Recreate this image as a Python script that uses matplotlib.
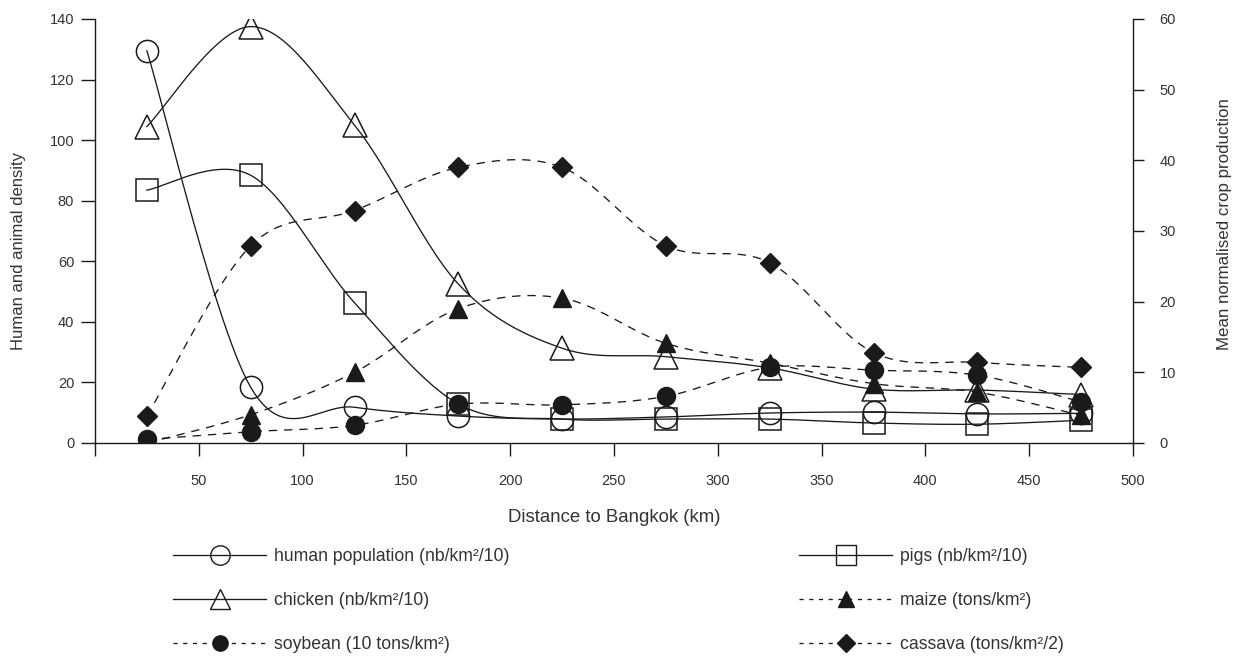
import numpy as np
import matplotlib
matplotlib.use('Agg')
import matplotlib.pyplot as plt
from matplotlib.lines import Line2D

plt.rcParams['font.family'] = ['Liberation Sans', 'DejaVu Sans']
plt.rcParams['lines.scale_dashes'] = False

# distance classes (km)
distance = [25, 75, 125, 175, 225, 275, 325, 375, 425, 475]

# left axis: human and animal density
human = [129.5, 18.4, 11.8, 8.9, 7.9, 8.6, 9.9, 10.2, 9.6, 9.8]
pigs = [83.5, 88.4, 46.3, 12.9, 7.9, 7.9, 7.9, 6.6, 6.2, 7.5]
chicken = [104.5, 137.5, 105.0, 52.5, 31.3, 28.5, 24.8, 17.8, 17.5, 16.0]

# right axis: crop production
maize = [0.0, 4.0, 10.0, 19.0, 20.5, 14.1, 11.3, 8.4, 7.2, 3.9]
soybean = [0.5, 1.6, 2.5, 5.5, 5.4, 6.6, 10.7, 10.3, 9.6, 5.8]
cassava = [3.8, 27.9, 32.9, 39.0, 39.0, 27.9, 25.5, 12.8, 11.4, 10.7]

labels = {
    'human': 'human population (nb/km²/10)',
    'pigs': 'pigs (nb/km²/10)',
    'chicken': 'chicken (nb/km²/10)',
    'maize': 'maize (tons/km²)',
    'soybean': 'soybean (10 tons/km²)',
    'cassava': 'cassava (tons/km²/2)',
}


def smooth(xs, ys, steps=30):
    # catmull-rom style bezier, like the "smoothed line" of a spreadsheet
    p = np.column_stack([xs, ys]).astype(float)
    p = np.vstack([p[0], p, p[-1]])
    out = []
    t = np.linspace(0, 1, steps)[:, None]
    for i in range(1, len(p) - 2):
        p0, p1, p2, p3 = p[i - 1], p[i], p[i + 1], p[i + 2]
        c1 = p1 + (p2 - p0) / 6
        c2 = p2 - (p3 - p1) / 6
        seg = ((1 - t) ** 3) * p1 + 3 * ((1 - t) ** 2) * t * c1 + 3 * (1 - t) * t ** 2 * c2 + t ** 3 * p2
        out.append(seg)
    out = np.vstack(out)
    return out[:, 0], out[:, 1]


ink = '#1a1a1a'
txt = '#333333'
lw = 0.95
dash = (6, 5)

fig = plt.figure(figsize=(12.39, 6.59), dpi=100)
ax = fig.add_axes([95 / 1239, 1 - 443 / 659, (1133 - 95) / 1239, (443 - 19) / 659])
ax2 = ax.twinx()

series_left = [
    (human, 'o', 16, 'none'),
    (pigs, 's', 16, 'none'),
    (chicken, '^', 17, 'none'),
]
series_right = [
    (maize, '^', 13, ink),
    (soybean, 'o', 13, ink),
    (cassava, 'D', 10.5, ink),
]

for ys, m, ms, fc in series_left:
    sx, sy = smooth(distance, ys)
    ax.plot(sx, sy, color=ink, lw=lw)
    ax.plot(distance, ys, ls='none', marker=m, ms=ms, mfc=fc, mec=ink, mew=1.1)

for ys, m, ms, fc in series_right:
    sx, sy = smooth(distance, ys)
    ax2.plot(sx, sy, color=ink, lw=lw, dashes=dash)
    ax2.plot(distance, ys, ls='none', marker=m, ms=ms, mfc=fc, mec=ink, mew=1.0)

ax.set_xlim(0, 500)
ax.set_ylim(0, 140)
ax2.set_ylim(0, 60)
ax.set_xticks(np.arange(0, 501, 50))
ax.set_xticklabels([''] + [str(v) for v in range(50, 501, 50)])
ax.set_yticks(np.arange(0, 141, 20))
ax2.set_yticks(np.arange(0, 61, 10))

for a in (ax, ax2):
    a.spines['top'].set_visible(False)
    for s in a.spines.values():
        s.set_color(ink)
        s.set_linewidth(1.0)
ax.spines['right'].set_visible(False)
ax2.spines['left'].set_visible(False)
ax2.spines['bottom'].set_visible(False)

ax.tick_params(axis='x', direction='out', length=9, width=1.0, color=ink, labelsize=10.5,
               labelcolor=txt, pad=13)
ax.tick_params(axis='y', direction='out', length=10, width=1.0, color=ink, labelsize=10.5,
               labelcolor=txt, pad=5)
ax2.tick_params(axis='y', direction='out', length=8, width=1.0, color=ink, labelsize=10.5,
                labelcolor=txt, pad=11)

ax.set_xlabel('Distance to Bangkok (km)', fontsize=13.4, color=txt)
ax.xaxis.set_label_coords(0.5, -0.156)
ax.set_ylabel('Human and animal density', fontsize=12, color=txt)
ax.yaxis.set_label_coords(-0.066, 0.453)
ax2.set_ylabel('Mean normalised crop production', fontsize=12.2, color=txt, rotation=90)
ax2.yaxis.set_label_coords(1.081, 0.5165)


def handle(m, ms, fc, dashed):
    h = Line2D([], [], color=ink, lw=lw, marker=m, ms=ms, mfc=fc, mec=ink, mew=1.0)
    if dashed:
        h.set_dashes((3, 4))
    return h


left_h = [handle('o', 14, 'none', False), handle('^', 14, 'none', False), handle('o', 11, ink, True)]
left_l = [labels['human'], labels['chicken'], labels['soybean']]
right_h = [handle('s', 15, 'none', False), handle('^', 12, ink, True), handle('D', 9, ink, True)]
right_l = [labels['pigs'], labels['maize'], labels['cassava']]

common = dict(loc='upper left', frameon=False, borderpad=0, borderaxespad=0, fontsize=12.7,
              handlelength=5.3, handletextpad=0.4, labelspacing=1.53, labelcolor=txt)
fig.legend(left_h, left_l, bbox_to_anchor=(173 / 1239, 1 - 548 / 659), **common)
fig.legend(right_h, right_l, bbox_to_anchor=(799 / 1239, 1 - 548 / 659), **common)

fig.savefig('out.png', dpi=100)
